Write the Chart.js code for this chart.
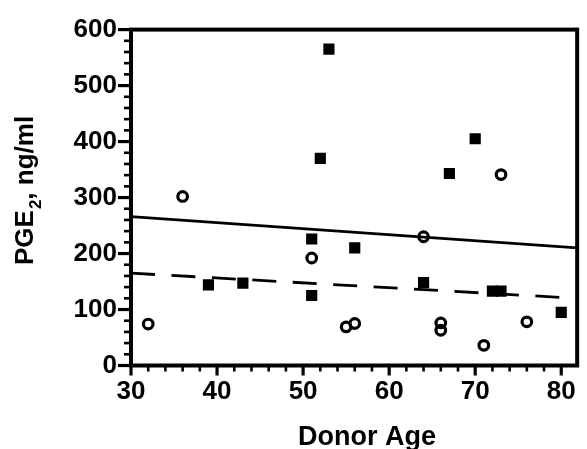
<!DOCTYPE html>
<html><head><meta charset="utf-8">
<script src="https://cdn.jsdelivr.net/npm/chart.js@4/dist/chart.umd.min.js"></script>
<style>html,body{margin:0;padding:0;background:#fff;}#wrap{width:587px;height:449px;}</style>
</head><body><div id="wrap"><canvas id="c" width="587" height="449"></canvas></div>
<script>
// Filled squares
const squareAges   = [53, 52, 70, 67, 51, 56, 39, 43, 51, 64, 72, 73, 80];
const squareValues = [565, 370, 405, 343, 226, 210, 144, 147, 125, 148, 133, 133, 95];
// Open circles
const circleAges   = [32, 36, 51, 64, 55, 56, 66, 66, 71, 73, 76];
const circleValues = [74, 302, 192, 230, 69, 75, 76, 63, 36, 341, 78];
// Regression lines (end points)
const solidFitAges   = [30, 81.85];
const solidFitValues = [266, 210];
const dashedFitAges   = [30, 81.85];
const dashedFitValues = [165, 120];
// Axes
const xTickValues = [30, 40, 50, 60, 70, 80];
const yTickValues = [0, 100, 200, 300, 400, 500, 600];
const xRange = [30, 81.85];
const yRange = [0, 600];
const xMinorStep = 2;
const yMinorStep = 20;
const xTitle = 'Donor Age';
const yTitleMain = 'PGE';
const yTitleSub = '2';
const yTitleRest = ', ng/ml';

const FONT = '"Liberation Sans", Arial, Helvetica, sans-serif';
const pts = (xs, ys) => xs.map((v, i) => ({x: v, y: ys[i]}));

const framePlugin = {
  id: 'frame',
  afterDraw(chart) {
    const {ctx, chartArea: a, scales: {x, y}} = chart;
    ctx.save();
    ctx.strokeStyle = '#000';
    ctx.lineCap = 'butt';
    ctx.lineWidth = 4;
    ctx.strokeRect(a.left, a.top, a.right - a.left, a.bottom - a.top);
    // x ticks
    const nx = Math.floor((xRange[1] - xRange[0]) / xMinorStep + 1e-9);
    for (let i = 0; i <= nx; i++) {
      const v = xRange[0] + i * xMinorStep;
      const px = x.getPixelForValue(v);
      const major = xTickValues.includes(v);
      ctx.lineWidth = major ? 3.2 : 2.6;
      ctx.beginPath();
      ctx.moveTo(px, a.bottom - 1);
      ctx.lineTo(px, a.bottom + (major ? 10 : 6));
      ctx.stroke();
    }
    // y ticks
    const ny = Math.round((yRange[1] - yRange[0]) / yMinorStep);
    for (let i = 0; i <= ny; i++) {
      const v = yRange[0] + i * yMinorStep;
      const py = y.getPixelForValue(v);
      const major = yTickValues.includes(v);
      ctx.lineWidth = major ? 3.2 : 2.6;
      ctx.beginPath();
      ctx.moveTo(a.left + 1, py);
      ctx.lineTo(a.left - (major ? 13 : 7), py);
      ctx.stroke();
    }
    // axis titles
    ctx.fillStyle = '#000';
    ctx.font = 'bold 27px ' + FONT;
    ctx.textAlign = 'center';
    ctx.textBaseline = 'alphabetic';
    ctx.fillText(xTitle, 367, 445);

    ctx.translate(33, 265);
    ctx.rotate(-Math.PI / 2);
    ctx.textAlign = 'left';
    ctx.font = 'bold 26px ' + FONT;
    ctx.fillText(yTitleMain, 0, 0);
    let w = ctx.measureText(yTitleMain).width;
    ctx.font = 'bold 17px ' + FONT;
    ctx.fillText(yTitleSub, w + 1, 8);
    w += ctx.measureText(yTitleSub).width + 1;
    ctx.font = 'bold 26px ' + FONT;
    ctx.fillText(yTitleRest, w, 0);
    ctx.restore();
  }
};

new Chart(document.getElementById('c'), {
  type: 'scatter',
  data: {
    datasets: [
      {
        type: 'line', data: pts(solidFitAges, solidFitValues),
        borderColor: '#000', borderWidth: 2.8, pointRadius: 0, fill: false
      },
      {
        type: 'line', data: pts(dashedFitAges, dashedFitValues),
        borderColor: '#000', borderWidth: 2.8, borderDash: [24, 16.5], pointRadius: 0, fill: false
      },
      {
        data: pts(squareAges, squareValues),
        pointStyle: 'rect', pointRadius: 7.9, backgroundColor: '#000', borderColor: '#000', borderWidth: 0
      },
      {
        data: pts(circleAges, circleValues),
        pointStyle: 'circle', pointRadius: 4.8, backgroundColor: 'rgba(255,255,255,0)', borderColor: '#000', borderWidth: 3.2
      }
    ]
  },
  options: {
    responsive: false,
    animation: false,
    devicePixelRatio: 1,
    layout: {padding: {top: 27.5, right: 2.5, left: 0, bottom: 0}},
    plugins: {legend: {display: false}, tooltip: {enabled: false}},
    scales: {
      x: {
        type: 'linear', min: xRange[0], max: xRange[1],
        afterFit(s) { s.height = 83.5; },
        afterBuildTicks(s) { s.ticks = xTickValues.map(v => ({value: v})); },
        grid: {display: false, drawTicks: false},
        border: {display: false},
        ticks: {padding: 11, color: '#000', font: {family: FONT, size: 26, weight: 'bold'}, maxRotation: 0}
      },
      y: {
        type: 'linear', min: yRange[0], max: yRange[1],
        afterFit(s) { s.width = 131; },
        afterBuildTicks(s) { s.ticks = yTickValues.map(v => ({value: v})); },
        grid: {display: false, drawTicks: false},
        border: {display: false},
        ticks: {padding: 14, color: '#000', font: {family: FONT, size: 26, weight: 'bold'}}
      }
    }
  },
  plugins: [framePlugin]
});
</script>
</body></html>
